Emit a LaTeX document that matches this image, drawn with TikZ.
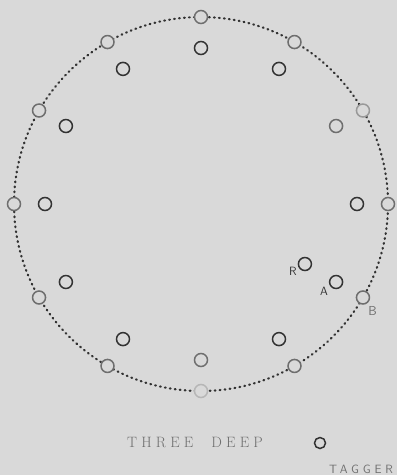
\documentclass[tikz,border=0pt]{standalone}
\usepackage{fontspec}
\usepackage{xcolor}
\usetikzlibrary{positioning}

\newfontfamily\spacedserif[LetterSpace=28]{Latin Modern Roman}
\newfontfamily\spacedsans[LetterSpace=32]{Latin Modern Sans}

\definecolor{paper}{RGB}{217,217,217}
\definecolor{ink}{RGB}{50,50,50}
\definecolor{faded}{RGB}{110,110,110}

\begin{document}
\begin{tikzpicture}[
    x=1pt, y=1pt,
    player/.style={circle, draw=ink, line width=1.5pt, fill=paper,
                inner sep=0pt, minimum size=13pt},
    outerplayer/.style={player, draw=faded},
    track/.style={circle, draw=ink, line width=2.2pt, line cap=round,
                dash pattern=on 0.8pt off 4.2pt, inner sep=0pt, outer sep=0pt},
    ringguide/.style={circle, inner sep=0pt, outer sep=0pt},
    lbl/.style={font=\sffamily\fontsize{12}{12}\selectfont, text=ink, inner sep=0pt}
]
\fill[paper] (0,0) rectangle (397,-475);
\useasboundingbox (0,0) rectangle (397,-475);

\coordinate (ctr) at (201,-204);
\node[track, minimum size=374pt] (ring) at (ctr) {};
\node[ringguide, minimum size=312pt] (inring) at (ctr) {};

% outer circle of players
\node[outerplayer] (o1) at (ring.90) {};
\node[outerplayer] (o2) at (ring.120) {};
\node[outerplayer] (o3) at (ring.150) {};
\node[outerplayer] (o4) at (ring.180) {};
\node[outerplayer] (o5) at (ring.210) {};
\node[outerplayer] (o6) at (ring.240) {};
\node[outerplayer, draw=faded!50] (o7) at (ring.270) {};
\node[outerplayer] (o8) at (ring.300) {};
\node[outerplayer] (b) at (ring.330) {};
\node[outerplayer] (o10) at (ring.0) {};
\node[outerplayer, draw=faded!70] (o11) at (ring.30) {};
\node[outerplayer] (o12) at (ring.60) {};

% inner circle of players
\node[player] (i1) at (inring.90) {};
\node[player] (i2) at (inring.120) {};
\node[player] (i3) at (inring.150) {};
\node[player] (i4) at (inring.180) {};
\node[player] (i5) at (inring.210) {};
\node[player] (i6) at (inring.240) {};
\node[player, draw=faded] (i7) at (inring.270) {};
\node[player] (i8) at (inring.300) {};
\node[player] (a) at (inring.330) {};
\node[player] (i10) at (inring.0) {};
\node[player, draw=faded] (i11) at (inring.30) {};
\node[player] (i12) at (inring.60) {};

% runner, third deep
\node[player] (r) at ([shift={(-30:120pt)}]ctr) {};

\node[lbl, below left=-2pt and 3pt of r] (rlbl) {R};
\node[lbl, below left=0pt and 3pt of a] (albl) {A};
\node[lbl, text=faded, font=\sffamily\fontsize{13}{13}\selectfont,
      below right=4pt and 0pt of b] (blbl) {B};

% key
\node[player, minimum size=11pt] (tagger) at (320,-443) {};
\node[lbl, text=faded, font=\spacedsans\fontsize{12}{12}\selectfont]
    (taggerlbl) at (361,-469) {TAGGER};
\node[text=faded, inner sep=0pt, font=\spacedserif\fontsize{15}{15}\selectfont]
    (title) at (195,-442) {THREE\hspace{18pt}DEEP};

\end{tikzpicture}
\end{document}
